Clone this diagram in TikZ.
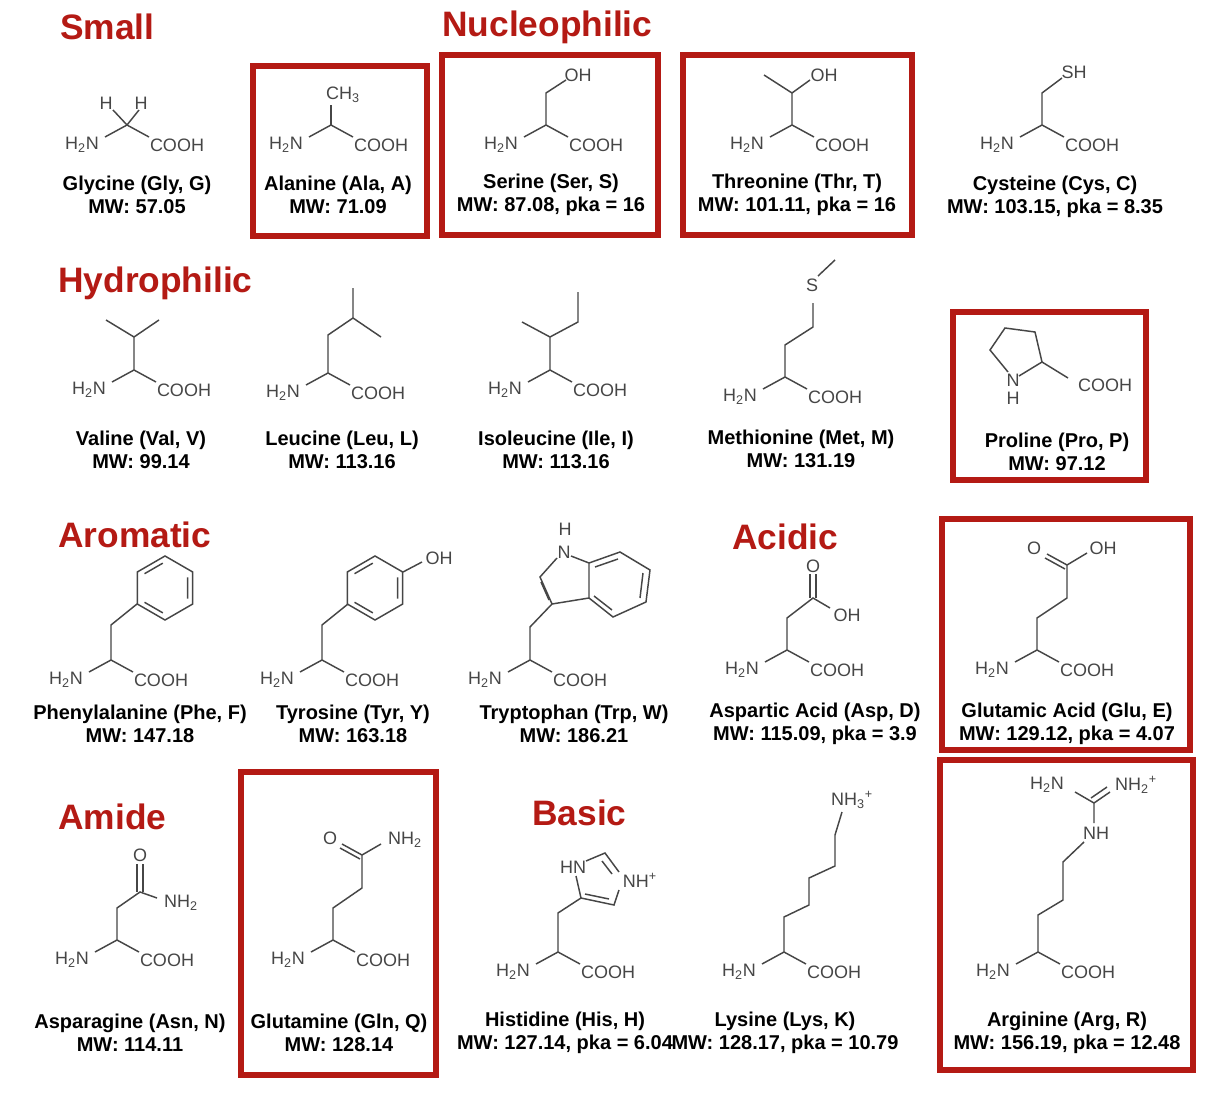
\documentclass[tikz,border=0pt]{standalone}
\usepackage{fontspec}
\setmainfont{Liberation Sans}
\definecolor{hred}{RGB}{180,26,20}
\definecolor{bond}{RGB}{70,70,70}
\tikzset{x=0.75pt,y=-0.75pt,
 chem/.style={font=\fontsize{13.5}{14}\selectfont,text=bond,inner sep=0pt},
 lbl/.style={font=\fontsize{15}{17.5}\selectfont\bfseries,align=center,inner sep=0pt},
 head/.style={font=\fontsize{26.5}{28}\selectfont\bfseries,text=hred,anchor=west,inner sep=0pt},
 redbox/.style={draw=hred,line width=3.8pt},
 bd/.style={draw=bond,line width=1.1pt}}
\newcommand\bbone{\draw[bd] (0,0)--(-22,12) (0,0)--(22,12);
 \node[chem] at (-45,20) {H\textsubscript{2}N}; \node[chem] at (50,20) {COOH};}
\newcommand\hexring[1]{\draw[bd] (30:#1)--(90:#1)--(150:#1)--(210:#1)--(270:#1)--(330:#1)--cycle;
 \draw[bd] (335:#1*0.78)--(25:#1*0.78) (95:#1*0.78)--(145:#1*0.78) (215:#1*0.78)--(265:#1*0.78);}
\begin{document}
\begin{tikzpicture}
\useasboundingbox[fill=white] (0,0) rectangle (1220,1098);
% headings
\node[head] (hs) at (60,27) {Small};
\node[head] (hn) at (442,27) {Nucleophilic};
\node[head] (hh) at (58,283) {Hydrophilic};
\node[head] (ha) at (58,535) {Aromatic};
\node[head] (hac) at (732,537) {Acidic};
\node[head] (ham) at (58,817) {Amide};
\node[head] (hb) at (532,813) {Basic};
% boxes
\draw[redbox] (253,66) rectangle (427,236);
\draw[redbox] (442,55) rectangle (658,235);
\draw[redbox] (683,55) rectangle (912,235);
\draw[redbox] (953,312) rectangle (1146,480);
\draw[redbox] (942,519) rectangle (1190,750);
\draw[redbox] (241,772) rectangle (436,1075);
\draw[redbox] (940,760) rectangle (1193,1070);
% labels
\node[lbl] (l1) at (137,195) {Glycine (Gly, G)\\MW: 57.05};
\node[lbl] (l2) at (338,195) {Alanine (Ala, A)\\MW: 71.09};
\node[lbl] (l3) at (551,195) {Serine (Ser, S)\\MW: 87.08, pka = 16};
\node[lbl] (l4) at (797,195) {Threonine (Thr, T)\\MW: 101.11, pka = 16};
\node[lbl] (l5) at (1055,197) {Cysteine (Cys, C)\\MW: 103.15, pka = 8.35};
\node[lbl] (l6) at (141,450) {Valine (Val, V)\\MW: 99.14};
\node[lbl] (l7) at (342,450) {Leucine (Leu, L)\\MW: 113.16};
\node[lbl] (l8) at (556,450) {Isoleucine (Ile, I)\\MW: 113.16};
\node[lbl] (l9) at (801,449) {Methionine (Met, M)\\MW: 131.19};
\node[lbl] (l10) at (1057,452) {Proline (Pro, P)\\MW: 97.12};
\node[lbl] (l11) at (140,724) {Phenylalanine (Phe, F)\\MW: 147.18};
\node[lbl] (l12) at (353,724) {Tyrosine (Tyr, Y)\\MW: 163.18};
\node[lbl] (l13) at (574,724) {Tryptophan (Trp, W)\\MW: 186.21};
\node[lbl] (l14) at (815,724) {Aspartic Acid (Asp, D)\\MW: 115.09, pka = 3.9};
\node[lbl] (l15) at (1067,724) {Glutamic Acid (Glu, E)\\MW: 129.12, pka = 4.07};
\node[lbl] (l16) at (130,1033) {Asparagine (Asn, N)\\MW: 114.11};
\node[lbl] (l17) at (339,1033) {Glutamine (Gln, Q)\\MW: 128.14};
\node[lbl] (l18) at (565,1033) {Histidine (His, H)\\MW: 127.14, pka = 6.04};
\node[lbl] (l19) at (785,1033) {Lysine (Lys, K)\\MW: 128.17, pka = 10.79};
\node[lbl] (l20) at (1067,1033) {Arginine (Arg, R)\\MW: 156.19, pka = 12.48};
% Glycine
\begin{scope}[shift={(127,125)}]\bbone
\draw[bd] (0,0)--(-14,-15) (0,0)--(12,-15);
\node[chem] at (-21,-22) {H}; \node[chem] at (14,-22) {H};\end{scope}
% Alanine
\begin{scope}[shift={(331,125)}]\bbone
\draw[bd] (0,0)--(0,-20); \node[chem] at (12,-30) {CH\textsubscript{3}};\end{scope}
% Serine
\begin{scope}[shift={(546,125)}]\bbone
\draw[bd] (0,0)--(0,-32)--(20,-45); \node[chem] at (32,-50) {OH};\end{scope}
% Threonine
\begin{scope}[shift={(792,125)}]\bbone
\draw[bd] (0,0)--(0,-32)--(-28,-50) (0,-32)--(18,-45); \node[chem] at (32,-50) {OH};\end{scope}
% Cysteine
\begin{scope}[shift={(1042,125)}]\bbone
\draw[bd] (0,0)--(0,-32)--(20,-47); \node[chem] at (32,-53) {SH};\end{scope}
% Valine
\begin{scope}[shift={(134,370)}]\bbone
\draw[bd] (0,0)--(0,-33)--(-28,-50) (0,-33)--(25,-50);\end{scope}
% Leucine
\begin{scope}[shift={(328,373)}]\bbone
\draw[bd] (0,0)--(0,-38)--(25,-55)--(25,-85) (25,-55)--(53,-36);\end{scope}
% Isoleucine
\begin{scope}[shift={(550,370)}]\bbone
\draw[bd] (0,0)--(0,-33)--(-28,-48) (0,-33)--(28,-48)--(28,-78);\end{scope}
% Methionine
\begin{scope}[shift={(785,377)}]\bbone
\draw[bd] (0,0)--(0,-32)--(28,-50)--(28,-74) (33,-101)--(50,-117);
\node[chem] at (27,-92) {S};\end{scope}
% Proline
\draw[bd] (1008,372)--(990,350)--(1005,328)--(1035,332)--(1042,362)--(1019,376);
\draw[bd] (1042,362)--(1068,378);
\node[chem] (pn) at (1013,380) {N}; \node[chem] (ph) at (1013,398) {H};
\node[chem] (pc) at (1105,385) {COOH};
% Phenylalanine
\begin{scope}[shift={(111,660)}]\bbone
\draw[bd] (0,0)--(0,-35)--(26,-56);
\begin{scope}[shift={(54,-72)}]\hexring{32}\end{scope}\end{scope}
% Tyrosine
\begin{scope}[shift={(322,660)}]\bbone
\draw[bd] (0,0)--(0,-35)--(26,-56);
\begin{scope}[shift={(53,-72)}]\hexring{32}\end{scope}
\draw[bd] (81,-88)--(100,-98); \node[chem] at (117,-102) {OH};\end{scope}
% Tryptophan
\begin{scope}[shift={(530,660)}]\bbone
\draw[bd] (0,0)--(0,-33)--(22,-56);
\draw[bd] (59,-62)--(22,-56)--(10,-83)--(27,-102);
\draw[bd] (41,-104)--(59,-97)--(59,-62);
\draw[bd] (19,-60)--(11,-78);
\draw[bd] (59,-97)--(90,-108)--(120,-90)--(116,-58)--(83,-43)--(59,-62);
\draw[bd] (65,-93)--(88,-101) (113,-87)--(110,-62) (82,-50)--(64,-64);
\node[chem] at (34,-108) {N}; \node[chem] at (35,-131) {H};\end{scope}
% Aspartic acid
\begin{scope}[shift={(787,650)}]\bbone
\draw[bd] (0,0)--(0,-32)--(26,-52)--(43,-42);
\draw[bd] (23,-52)--(23,-76) (29,-52)--(29,-76);
\node[chem] at (26,-84) {O}; \node[chem] at (60,-35) {OH};\end{scope}
% Glutamic acid
\begin{scope}[shift={(1037,650)}]\bbone
\draw[bd] (0,0)--(0,-32)--(30,-52)--(30,-85)--(50,-97);
\draw[bd] (30,-85)--(10,-96) (28,-81)--(8,-92);
\node[chem] at (-3,-102) {O}; \node[chem] at (66,-102) {OH};\end{scope}
% Asparagine
\begin{scope}[shift={(117,940)}]\bbone
\draw[bd] (0,0)--(0,-32)--(23,-48)--(40,-42);
\draw[bd] (20,-48)--(20,-76) (26,-48)--(26,-76);
\node[chem] at (23,-85) {O}; \node[chem] at (64,-37) {NH\textsubscript{2}};\end{scope}
% Glutamine
\begin{scope}[shift={(333,940)}]\bbone
\draw[bd] (0,0)--(0,-32)--(29,-52)--(29,-85)--(48,-96);
\draw[bd] (29,-85)--(9,-96) (27,-81)--(7,-92);
\node[chem] at (-3,-102) {O}; \node[chem] at (72,-100) {NH\textsubscript{2}};\end{scope}
% Histidine
\begin{scope}[shift={(558,952)}]\bbone
\draw[bd] (0,0)--(0,-39)--(23,-54)--(18,-76);
\draw[bd] (28,-91)--(47,-99)--(61,-80);
\draw[bd] (61,-62)--(56,-47)--(23,-54);
\draw[bd] (44,-91)--(54,-78) (51,-53)--(27,-58);
\node[chem] at (15,-85) {HN}; \node[chem] at (82,-72) {NH\textsuperscript{+}};\end{scope}
% Lysine
\begin{scope}[shift={(784,952)}]\bbone
\draw[bd] (0,0)--(0,-35)--(25,-47)--(25,-74)--(51,-86)--(51,-117)--(58,-140);
\node[chem] at (68,-152) {NH\textsubscript{3}\textsuperscript{+}};\end{scope}
% Arginine
\begin{scope}[shift={(1038,952)}]\bbone
\draw[bd] (0,0)--(0,-37)--(25,-52)--(25,-90)--(46,-110) (56,-129)--(56,-149)--(37,-160);
\draw[bd] (56,-149)--(72,-160) (53,-154)--(69,-165);
\node[chem] at (58,-119) {NH}; \node[chem] at (9,-167) {H\textsubscript{2}N};
\node[chem] at (98,-167) {NH\textsubscript{2}\textsuperscript{+}};\end{scope}
\end{tikzpicture}
\end{document}
